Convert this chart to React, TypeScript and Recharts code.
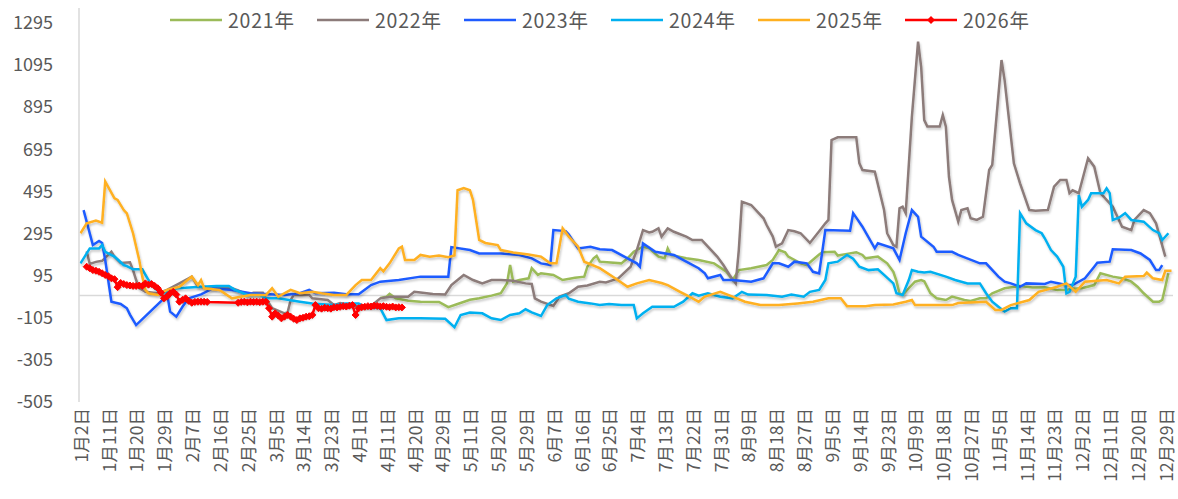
import React from 'react';
import { LineChart, Line, XAxis, YAxis, ReferenceLine, Legend } from 'recharts';

// ---- categories: daily dates (leap-year calendar), holidays not listed ----
const MONTH_DAYS = [31, 29, 31, 30, 31, 30, 31, 31, 30, 31, 30, 31];
const SKIPPED_DATES = ['1月1日', '4月4日', '5月1日', '5月2日', '5月3日', '10月1日', '10月2日', '10月3日', '10月4日', '10月5日', '10月6日', '10月7日'];
const CATEGORIES: string[] = [];
MONTH_DAYS.forEach((n, m) => {
  for (let d = 1; d <= n; d++) {
    const label = `${m + 1}月${d}日`;
    if (!SKIPPED_DATES.includes(label)) CATEGORIES.push(label);
  }
});

const Y_TICKS = [-505, -305, -105, 95, 295, 495, 695, 895, 1095, 1295];

// ---- series readings: [category index, value] ----
const S2021: [number, number][] = [
  [97, -11], [99, -5], [100, 8], [102, -13], [106, -24], [110, -29], [116, -30], [119, -55], [122, -40], [126, -20], [129, -13], [133, 0],
  [136, 11], [138, 58], [139, 145], [140, 66], [142, 74], [145, 82], [146, 130], [148, 98], [149, 106], [153, 98], [156, 74], [160, 85],
  [163, 90], [164, 137], [166, 177], [167, 188], [168, 161], [175, 153], [177, 177], [179, 208], [182, 232], [184, 225], [187, 185],
  [189, 177], [190, 224], [191, 193], [196, 177], [200, 169], [205, 153], [209, 113], [211, 74], [213, 121], [217, 130], [222, 145],
  [224, 169], [226, 216], [228, 205], [229, 185], [233, 153], [235, 145], [239, 195], [240, 206], [244, 208], [245, 190], [248, 198],
  [251, 206], [253, 193], [254, 177], [258, 185], [261, 153], [263, 113], [264, 70], [265, 11], [266, 3], [268, 35], [270, 66], [272, 74],
  [273, 68], [275, 11], [277, -13], [280, -21], [282, -5], [286, -21], [288, -25], [291, -13], [293, -13], [295, 11], [299, 35], [304, 46],
  [308, 39], [312, 40], [316, 27], [319, 27], [321, 33], [324, 35], [328, 50], [330, 106], [334, 90], [337, 82], [340, 66], [342, 42],
  [344, 11], [347, -29], [349, -29], [350, -21], [351, 42], [352, 106],
];

const S2022: [number, number][] = [
  [2, 210], [3, 150], [5, 160], [7, 165], [10, 208], [11, 185], [13, 155], [16, 158], [17, 121], [18, 74], [19, 35], [21, 18], [25, 11],
  [28, 27], [32, 58], [36, 90], [38, 42], [43, 35], [49, 35], [51, 25], [54, 3], [56, 14], [59, 14], [60, -13], [62, -60], [66, -84],
  [67, -80], [68, -21], [69, 3], [74, 3], [75, -13], [80, -21], [82, -45], [84, -35], [87, -45], [90, -53], [94, -49], [97, -13],
  [100, -5], [106, -5], [108, 18], [110, 15], [114, 8], [118, 5], [120, 50], [122, 74], [124, 98], [127, 74], [130, 58], [133, 74],
  [136, 74], [140, 70], [144, 58], [146, 55], [147, -13], [149, -29], [153, -49], [155, -5], [158, 11], [161, 42], [164, 48], [168, 66],
  [170, 62], [174, 82], [178, 137], [180, 216], [182, 311], [184, 300], [185, 303], [187, 319], [188, 280], [190, 319], [192, 303],
  [196, 280], [198, 264], [201, 264], [203, 232], [206, 185], [208, 145], [210, 98], [212, 58], [213, 216], [214, 446], [217, 430],
  [221, 367], [222, 335], [224, 280], [225, 232], [227, 248], [229, 311], [231, 305], [233, 296], [236, 250], [239, 305], [241, 343],
  [242, 359], [243, 738], [245, 751], [251, 751], [252, 628], [253, 596], [257, 588], [260, 406], [261, 296], [263, 240], [264, 232],
  [265, 414], [266, 422], [267, 391], [269, 849], [271, 1205], [272, 1086], [273, 833], [274, 802], [278, 802], [279, 857], [280, 802],
  [281, 564], [282, 454], [284, 351], [285, 406], [287, 414], [288, 367], [290, 359], [292, 374], [294, 596], [295, 620], [298, 1118],
  [299, 1023], [302, 628], [304, 533], [307, 406], [309, 403], [313, 406], [315, 517], [317, 549], [319, 549], [320, 486], [321, 500],
  [323, 486], [326, 652], [328, 612], [330, 486], [334, 422], [337, 327], [340, 311], [341, 359], [344, 406], [346, 391], [348, 343],
  [351, 185],
];

const S2023: [number, number][] = [
  [1, 406], [4, 240], [6, 259], [7, 250], [8, 169], [10, -29], [13, -40], [15, -60], [16, -90], [18, -140], [27, -13], [28, 11],
  [29, -76], [31, -100], [33, -53], [35, -13], [39, 6], [43, 35], [49, 27], [55, 11], [66, 3], [71, 11], [74, 27], [76, 11], [82, 14],
  [86, 6], [90, 6], [94, 50], [97, 66], [103, 74], [110, 90], [119, 90], [120, 230], [126, 216], [129, 200], [136, 200], [142, 193],
  [146, 177], [149, 153], [152, 145], [153, 311], [157, 306], [158, 290], [161, 224], [165, 232], [168, 220], [172, 216], [177, 177],
  [180, 153], [181, 137], [182, 248], [186, 208], [192, 193], [196, 161], [200, 130], [202, 106], [203, 82], [207, 98], [208, 74],
  [211, 74], [217, 66], [221, 82], [224, 153], [226, 153], [229, 137], [231, 161], [235, 153], [237, 113], [239, 105], [241, 311],
  [249, 308], [250, 391], [251, 370], [253, 327], [257, 224], [258, 248], [263, 224], [265, 169], [267, 296], [269, 406], [271, 374],
  [272, 280], [276, 232], [277, 208], [282, 208], [284, 193], [291, 153], [293, 153], [297, 90], [299, 66], [301, 58], [304, 42],
  [306, 58], [312, 55], [314, 66], [319, 50], [321, 50], [325, 82], [328, 137], [329, 156], [333, 161], [334, 220], [340, 216],
  [343, 200], [346, 169], [348, 121], [349, 121], [350, 145],
];

const S2024: [number, number][] = [
  [0, 153], [3, 224], [6, 224], [7, 240], [8, 208], [11, 185], [14, 145], [15, 140], [17, 125], [20, 125], [22, 74], [24, 35], [26, 11],
  [28, 20], [31, 35], [34, 37], [39, 42], [44, 45], [48, 46], [50, 27], [54, 3], [58, 3], [60, -13], [64, -13], [71, -29], [75, -37],
  [82, -45], [86, -37], [90, -37], [92, -53], [97, -60], [99, -116], [103, -108], [110, -108], [118, -110], [121, -150], [123, -92],
  [126, -80], [130, -84], [133, -108], [136, -116], [139, -92], [142, -84], [144, -65], [146, -80], [149, -97], [151, -45], [154, -13],
  [157, 3], [158, -15], [161, -29], [165, -37], [168, -45], [171, -40], [175, -45], [179, -45], [180, -108], [182, -84], [185, -53],
  [189, -53], [192, -53], [195, -29], [198, 11], [200, 0], [203, 11], [207, -5], [211, -13], [214, 18], [216, 5], [222, 3], [227, -5],
  [230, 5], [234, -5], [236, 18], [239, 27], [241, 74], [242, 153], [245, 161], [248, 193], [250, 175], [252, 137], [255, 121],
  [258, 125], [260, 98], [263, 58], [264, 11], [266, 3], [268, 74], [269, 121], [271, 113], [273, 110], [275, 113], [280, 90], [283, 74],
  [287, 58], [291, 58], [293, 11], [295, -29], [297, -53], [299, -76], [301, -60], [303, -60], [304, 391], [306, 343], [309, 311],
  [311, 296], [312, 272], [314, 216], [316, 185], [318, 137], [319, 11], [320, 18], [322, 90], [323, 477], [324, 422], [326, 454],
  [327, 486], [331, 486], [332, 509], [333, 486], [334, 359], [336, 370], [338, 391], [340, 359], [344, 351], [347, 311], [349, 296],
  [350, 264], [352, 296],
];

const S2025: [number, number][] = [
  [0, 296], [2, 343], [5, 356], [7, 346], [8, 541], [11, 462], [12, 454], [14, 406], [15, 390], [17, 296], [19, 169], [20, 90], [21, 27],
  [22, 11], [25, 3], [28, 27], [32, 42], [36, 90], [38, 50], [39, 74], [40, 35], [45, 27], [49, -13], [55, 3], [60, 3], [62, 35],
  [64, -5], [68, 27], [71, 11], [75, 18], [78, 11], [82, 3], [86, 3], [89, 50], [91, 74], [94, 74], [97, 130], [98, 115], [100, 153],
  [103, 224], [104, 232], [105, 169], [108, 169], [110, 193], [113, 185], [116, 190], [119, 182], [121, 190], [122, 500], [124, 510],
  [126, 500], [127, 454], [129, 264], [131, 250], [135, 240], [136, 216], [140, 205], [145, 195], [149, 185], [152, 153], [154, 153],
  [156, 319], [158, 280], [161, 232], [163, 161], [168, 130], [173, 82], [177, 42], [180, 58], [184, 74], [188, 60], [190, 50], [194, 18],
  [197, -5], [200, -29], [202, -5], [207, 18], [211, -5], [215, -29], [220, -45], [226, -45], [232, -37], [237, -29], [242, -13],
  [246, -13], [248, -50], [254, -50], [257, -45], [263, -42], [267, -29], [269, -21], [270, -45], [282, -45], [284, -35], [293, -29],
  [296, -68], [298, -68], [301, -45], [307, -21], [310, 18], [316, 42], [319, 58], [322, 18], [325, 66], [332, 74], [336, 58], [338, 90],
  [344, 93], [345, 109], [347, 82], [350, 74], [351, 118], [353, 118],
];

// 2026: daily values starting at 1月4日 (null = no data)
const S2026_START = '1月4日';
const S2026: (number | null)[] = [
  137, 130, 121, 118, 113, 106, 98, 92, 82, 78,
  40, 60, 55, 50, 48, 46, 46, 48, 46, 58,
  52, 55, 46, 35, 15, -13, -5, 11, 18, 5,
  -29, -20, -13, -25, -34, -30, -29, -29, -29, -30,
  null, null, null, null, null, null, null, null, null,
  -34, -30, -29, -32, -29, -30, -29, -31, -29, -29,
  -60, -100, -84, -95, -108, -100, -92, -100, -110, -116,
  -108, -105, -100, -98, -92, -45, -60, -62, -58, -60,
  -62, -55, -56, -53, -50, -52, -48, -45, -92, -60,
  -55, -53, -50, -52, -48, -49, -52, -50, -53, -55,
  -52, -56, -55, -56,
];

const SERIES = [
  { key: '2021年', color: '#9BBB59', pts: S2021 },
  { key: '2022年', color: '#8C7B7A', pts: S2022 },
  { key: '2023年', color: '#1F5BFF', pts: S2023 },
  { key: '2024年', color: '#00B0F0', pts: S2024 },
  { key: '2025年', color: '#FFB020', pts: S2025 },
];

const data = CATEGORIES.map((date, i) => {
  const row: Record<string, any> = { date };
  SERIES.forEach((s) => {
    const hit = s.pts.find((p) => p[0] === i);
    row[s.key] = hit ? hit[1] : null;
  });
  const start = CATEGORIES.indexOf(S2026_START);
  const j = i - start;
  row['2026年'] = j >= 0 && j < S2026.length ? S2026[j] : null;
  return row;
});

const FONT = '"Noto Sans CJK SC", "Noto Sans", sans-serif';

const RedDot = (props: any) => {
  const { cx, cy, index } = props;
  if (cx == null || cy == null || props.value == null) return <g key={`d${index}`} />;
  const r = 3.5;
  return (
    <path
      key={`d${index}`}
      d={`M${cx},${cy - r}L${cx + r},${cy}L${cx},${cy + r}L${cx - r},${cy}Z`}
      fill="#FF0000"
      stroke="#FF0000"
      strokeWidth={1}
    />
  );
};

const DateTick = (props: any) => {
  const { x, y, payload } = props;
  return (
    <text
      x={x}
      y={y}
      transform={`rotate(-90, ${x}, ${y})`}
      textAnchor="end"
      dy="0.42em"
      fontSize={17.5}
      fill="#595959"
      fontFamily={FONT}
    >
      {payload.value}
    </text>
  );
};

const LegendContent = (props: any) => {
  const { payload } = props;
  return (
    <div style={{ display: 'flex', paddingLeft: 170, fontFamily: FONT }}>
      {(payload || []).map((p: any) => (
        <div key={p.value} style={{ width: 147, display: 'flex', alignItems: 'center', height: 26 }}>
          <svg width={52} height={12} style={{ display: 'block' }}>
            <line x1={0} y1={6} x2={52} y2={6} stroke={p.color} strokeWidth={2.5} />
            {p.value === '2026年' && <path d="M26,2L30,6L26,10L22,6Z" fill="#FF0000" />}
          </svg>
          <span style={{ marginLeft: 6, fontSize: 19.5, letterSpacing: 0.8, color: '#595959', lineHeight: '26px', whiteSpace: 'nowrap' }}>{p.value}</span>
        </div>
      ))}
    </div>
  );
};

export default function App() {
  return (
    <div style={{ position: 'absolute', left: 0, top: 0, fontFamily: FONT }}>
      <LineChart width={1178} height={499} data={data} margin={{ top: 8, right: 5, left: 0, bottom: 7 }} style={{ fontFamily: FONT }}>
        <defs>
          <filter id="lineShadow" x="-5%" y="-10%" width="110%" height="130%">
            <feDropShadow dx="1" dy="2" stdDeviation="1.2" floodColor="#000000" floodOpacity="0.22" />
          </filter>
        </defs>
        <XAxis
          dataKey="date"
          interval={8}
          height={90}
          tickLine={false}
          axisLine={false}
          tickMargin={0}
          padding={{ left: 1.5, right: 1.5 }}
          tick={<DateTick />}
        />
        <YAxis
          width={79}
          domain={[-505, 1365]}
          ticks={Y_TICKS}
          tickLine={false}
          axisLine={{ stroke: '#D9D9D9', strokeWidth: 1.5 }}
          tickMargin={20}
          tick={{ fontSize: 18, fill: '#595959', fontFamily: FONT }}
          allowDataOverflow
        />
        <ReferenceLine y={0} stroke="#D9D9D9" strokeWidth={1.5} />
        <Legend
          verticalAlign="middle"
          align="center"
          layout="horizontal"
          content={<LegendContent />}
          wrapperStyle={{ top: 7, left: 0, width: 1178 }}
        />
        {SERIES.map((s) => (
          <Line
            key={s.key}
            type="linear"
            dataKey={s.key}
            name={s.key}
            stroke={s.color}
            strokeWidth={2.5}
            dot={false}
            activeDot={false}
            connectNulls
            isAnimationActive={false}
            filter="url(#lineShadow)"
          />
        ))}
        <Line
          type="linear"
          dataKey="2026年"
          name="2026年"
          stroke="#FF0000"
          strokeWidth={2.5}
          dot={RedDot}
          activeDot={false}
          connectNulls
          isAnimationActive={false}
          filter="url(#lineShadow)"
        />
      </LineChart>
    </div>
  );
}
